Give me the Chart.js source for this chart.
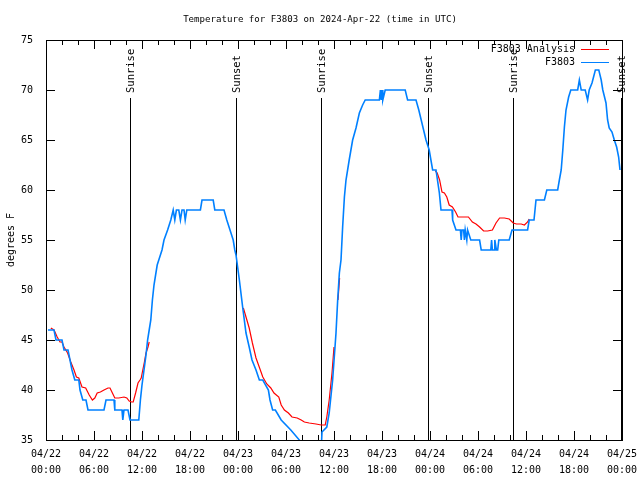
<!DOCTYPE html>
<html>
<head>
<meta charset="utf-8">
<script src="https://cdn.jsdelivr.net/npm/chart.js@4"></script>
<style>
  html, body { margin: 0; padding: 0; background: #fff; }
  #wrap { width: 640px; height: 480px; }
</style>
</head>
<body>
<div id="wrap"><canvas id="chart" width="640" height="480"></canvas></div>
<script>
// ── F3803 temperature, 2024-Apr-22 .. 04/25 (hours since 04/22 00:00 UTC) ──
const titleText = 'Temperature for F3803 on 2024-Apr-22 (time in UTC)';
const yTitle = 'degrees F';

const seriesNames = ['F3803 Analysis', 'F3803'];

// station obs (blue)
const obsHours = [
  0.25, 1.0, 1.25, 2.0, 2.25, 2.75, 3.0, 3.25, 3.6, 4.1, 4.25, 4.6, 5.0, 5.25, 7.25, 7.5, 8.5, 8.6, 9.5, 9.6,
  9.75, 10.25, 10.5, 11.6, 11.8, 12.0, 12.25, 12.5, 12.7, 12.9, 13.1, 13.3, 13.5, 13.7, 13.9, 14.1, 14.5, 14.75, 15.2, 15.6,
  15.9, 16.1, 16.3, 16.6, 16.8, 17.0, 17.25, 17.4, 17.6, 19.3, 19.5, 20.9, 21.1, 22.25, 22.6, 23.0, 23.4, 23.6, 23.75, 24.17,
  24.58, 25.0, 25.4, 25.75, 26.25, 26.67, 27.1, 27.8, 28.0, 28.33, 28.67, 29.4, 30.6, 31.67, 31.9, 34.4, 34.5, 35.1, 35.4, 35.83,
  36.25, 36.46, 36.67, 36.875, 37.08, 37.3, 37.5, 37.9, 38.33, 38.75, 39.17, 39.58, 39.9, 41.67, 41.8, 41.9, 42.0, 42.1, 42.4, 44.9,
  45.2, 46.25, 46.6, 46.9, 47.2, 47.5, 47.9, 48.33, 48.75, 49.17, 49.375, 50.75, 50.83, 51.25, 51.8, 51.9, 52.0, 52.2, 52.3, 52.4,
  52.6, 52.7, 53.1, 54.2, 54.4, 55.6, 55.7, 55.8, 56.0, 56.1, 56.3, 56.46, 56.6, 57.9, 58.25, 60.2, 60.4, 61.0, 61.25, 62.3,
  62.6, 63.96, 64.17, 64.4, 64.6, 64.8, 65.0, 65.33, 65.6, 66.46, 66.67, 66.9, 67.4, 67.7, 67.9, 68.25, 68.67, 69.1, 69.4, 69.6,
  70.0, 70.2, 70.4, 70.75, 71.04, 71.33, 71.58, 71.75
];
const obsTemps = [
  46, 46, 45, 45, 44, 44, 43, 42, 41, 41, 40, 39, 39, 38, 38, 39, 39, 38, 38, 37,
  38, 38, 37, 37, 39, 40.5, 42, 43.5, 45, 46, 47, 49, 50.5, 51.5, 52.5, 53, 54, 55, 56, 57,
  58, 57, 58, 58, 57, 58, 58, 57, 58, 58, 59, 59, 58, 58, 57, 56, 55, 54, 53.5, 51,
  48.3, 45.7, 44.3, 43, 42, 41, 41, 40, 39, 38, 38, 37, 36, 35, 34, 34, 35.8, 36.3, 37.7, 41,
  45.7, 49, 51.7, 53, 56.3, 59.3, 61, 63, 65, 66.2, 67.7, 68.5, 69, 69, 70, 69, 70, 69, 70, 70,
  69, 69, 68, 67, 66, 65, 64, 62, 62, 59.7, 58, 58, 57, 56, 56, 55, 56, 56, 55, 56,
  55, 56, 55, 55, 54, 54, 55, 54, 54, 55, 54, 54, 55, 55, 56, 56, 57, 57, 59, 59,
  60, 60, 61, 62, 64, 66.3, 68, 69.3, 70, 70, 71, 70, 70, 69, 70, 70.7, 72, 72, 71, 70,
  68.7, 67, 66.2, 65.8, 65, 64.3, 63.3, 62
];

// analysis (red), null = no analysis
const anaHours = [
  0.6, 1.0, 1.4, 1.75, 2.0, 2.25, 2.7, 3.1, 3.5, 3.8, 4.1, 4.5, 4.96, 5.4, 5.8, 6.1, 6.4, 6.8, 7.25, 7.75,
  8.0, 8.3, 8.6, 9.1, 9.75, 10.1, 10.4, 10.7, 10.9, 11.2, 11.5, 11.75, 11.9, 12.1, 12.3, 12.5, 12.75, 12.9, 18.0,
  24.67, 25.0, 25.4, 25.8, 26.25, 26.7, 27.1, 27.6, 28.1, 28.5, 29.1, 29.4, 29.8, 30.3, 30.75, 31.4, 31.9, 32.3, 32.9, 33.75,
  34.4, 34.9, 35.1, 35.4, 35.75, 36.0, 36.2, 36.5, 36.7, 42.0,
  48.67, 48.9, 49.2, 49.5, 49.8, 50.1, 50.4, 50.8, 51.2, 51.5, 52.8, 53.3, 53.75, 54.2, 54.7, 55.2, 55.8, 56.25, 56.7, 57.3,
  57.9, 58.4, 58.8, 59.4, 59.8, 60.2, 60.4
];
const anaTemps = [
  46.2, 46, 45.3, 44.8, 44.8, 44.3, 43.7, 42.8, 42, 41.3, 41.2, 40.3, 40.2, 39.5, 39, 39.2, 39.7, 39.8, 40, 40.2,
  40.2, 39.7, 39.2, 39.2, 39.3, 39.2, 38.9, 38.8, 38.8, 39.7, 40.7, 41, 41.2, 42, 42.8, 43.7, 44.3, 44.8, null,
  48.2, 47.3, 46.2, 44.7, 43.2, 42.2, 41.3, 40.6, 40.2, 39.7, 39.3, 38.5, 38, 37.7, 37.3, 37.2, 37, 36.8, 36.7, 36.6,
  36.5, 36.5, 37.3, 39, 41.7, 44.3, null, 49, 51.2, null,
  61.9, 61.7, 61, 59.8, 59.7, 59.3, 58.5, 58.3, 57.8, 57.3, 57.3, 56.8, 56.6, 56.3, 55.9, 55.9, 56, 56.7, 57.2, 57.2,
  57.1, 56.7, 56.6, 56.6, 56.5, 56.8, 57.1
];

// sunrise / sunset markers
const sunHours = [10.5, 23.75, 34.375, 47.75, 58.375, 71.875];
const sunLabels = ['Sunrise', 'Sunset', 'Sunrise', 'Sunset', 'Sunrise', 'Sunset'];

// x tick labels every 6 h
const xTickHours = [0, 6, 12, 18, 24, 30, 36, 42, 48, 54, 60, 66, 72];
const xTickLabels = [
  ['04/22', '00:00'], ['04/22', '06:00'], ['04/22', '12:00'], ['04/22', '18:00'],
  ['04/23', '00:00'], ['04/23', '06:00'], ['04/23', '12:00'], ['04/23', '18:00'],
  ['04/24', '00:00'], ['04/24', '06:00'], ['04/24', '12:00'], ['04/24', '18:00'],
  ['04/25', '00:00'],
];

const MONO = "'DejaVu Sans Mono', monospace";
const FONT_PX = 10;

const toPoints = (xs, ys) => xs.map((h, i) => ({ x: h, y: ys[i] }));

// gnuplot-ish decorations: frame, inward ticks, sun lines, key, titles
const gnuplotDecor = {
  id: 'gnuplotDecor',
  beforeDatasetsDraw(chart) {
    const { ctx, chartArea: a, scales: { x } } = chart;
    ctx.save();
    ctx.strokeStyle = '#000';
    ctx.lineWidth = 1;
    ctx.fillStyle = '#000';
    ctx.font = `${FONT_PX + 0.5}px ${MONO}`;
    const lineTop = a.top + 58;
    sunHours.forEach((h, i) => {
      const px = Math.round(x.getPixelForValue(h)) + 0.5;
      ctx.beginPath(); ctx.moveTo(px, a.bottom); ctx.lineTo(px, lineTop); ctx.stroke();
      ctx.save();
      ctx.translate(px + 1, lineTop - 5);
      ctx.rotate(-Math.PI / 2);
      ctx.textAlign = 'left'; ctx.textBaseline = 'middle';
      ctx.fillText(sunLabels[i], 0, 0);
      ctx.restore();
    });
    ctx.restore();
  },
  afterDatasetsDraw(chart) {
    const { ctx, chartArea: a, scales: { x, y } } = chart;
    ctx.save();
    ctx.strokeStyle = '#000';
    ctx.lineWidth = 1;
    ctx.strokeRect(a.left + 0.5, a.top + 0.5, a.right - a.left, a.bottom - a.top);

    ctx.beginPath();
    for (let h = 0; h <= 72; h += 2) {
      const px = Math.round(x.getPixelForValue(h)) + 0.5;
      const len = h % 6 === 0 ? 9 : 5;
      ctx.moveTo(px, a.bottom); ctx.lineTo(px, a.bottom - len);
      ctx.moveTo(px, a.top); ctx.lineTo(px, a.top + len);
    }
    for (let v = 35; v <= 75; v += 5) {
      const py = Math.round(y.getPixelForValue(v)) + 0.5;
      ctx.moveTo(a.left, py); ctx.lineTo(a.left + 9, py);
      ctx.moveTo(a.right, py); ctx.lineTo(a.right - 9, py);
    }
    ctx.stroke();

    // key
    ctx.font = `${FONT_PX}px ${MONO}`;
    ctx.fillStyle = '#000';
    ctx.textAlign = 'right'; ctx.textBaseline = 'middle';
    const ds = chart.data.datasets;
    [ds[1], ds[0]].forEach((d, i) => {
      const ky = a.top + 9 + i * 13;
      ctx.fillText(d.label, a.right - 47, ky);
      ctx.strokeStyle = d.borderColor;
      ctx.lineWidth = 1;
      ctx.beginPath(); ctx.moveTo(a.right - 41, ky + 0.5); ctx.lineTo(a.right - 13, ky + 0.5); ctx.stroke();
    });

    // title + y label
    ctx.textAlign = 'center';
    ctx.font = `9.1px ${MONO}`;
    ctx.fillText(titleText, (a.left + a.right) / 2 - 14, 20);
    ctx.font = `${FONT_PX}px ${MONO}`;
    ctx.save();
    ctx.translate(11, (a.top + a.bottom) / 2);
    ctx.rotate(-Math.PI / 2);
    ctx.fillText(yTitle, 0, 0);
    ctx.restore();
    ctx.restore();
  },
};

new Chart(document.getElementById('chart').getContext('2d'), {
  type: 'line',
  data: {
    datasets: [
      {
        label: seriesNames[1],
        data: toPoints(obsHours, obsTemps),
        borderColor: '#0080ff',
        borderWidth: 1.6,
        pointRadius: 0,
        tension: 0,
        clip: 0,
        order: 0,
      },
      {
        label: seriesNames[0],
        data: toPoints(anaHours, anaTemps),
        borderColor: '#ff0000',
        borderWidth: 1.2,
        pointRadius: 0,
        tension: 0,
        spanGaps: false,
        clip: 0,
        order: 1,
      },
    ],
  },
  options: {
    responsive: false,
    animation: false,
    layout: { padding: { top: 40, right: 18, left: 0, bottom: 0 } },
    plugins: { legend: { display: false }, tooltip: { enabled: false }, title: { display: false } },
    scales: {
      x: {
        type: 'linear',
        min: 0, max: 72,
        afterBuildTicks: s => { s.ticks = xTickHours.map(v => ({ value: v })); },
        afterFit: s => { s.height = 40; s.paddingLeft = 0; s.paddingRight = 0; },
        ticks: {
          autoSkip: false, maxRotation: 0, padding: -2,
          font: { family: MONO, size: FONT_PX, lineHeight: 1.6 }, color: '#000',
          callback: v => xTickLabels[xTickHours.indexOf(v)] || '',
        },
        grid: { display: false },
        border: { display: false },
      },
      y: {
        min: 35, max: 75,
        afterFit: s => { s.width = 46; s.paddingTop = 0; s.paddingBottom = 0; },
        ticks: { stepSize: 5, padding: 5, font: { family: MONO, size: FONT_PX }, color: '#000' },
        grid: { display: false },
        border: { display: false },
      },
    },
  },
  plugins: [gnuplotDecor],
});
</script>
</body>
</html>
